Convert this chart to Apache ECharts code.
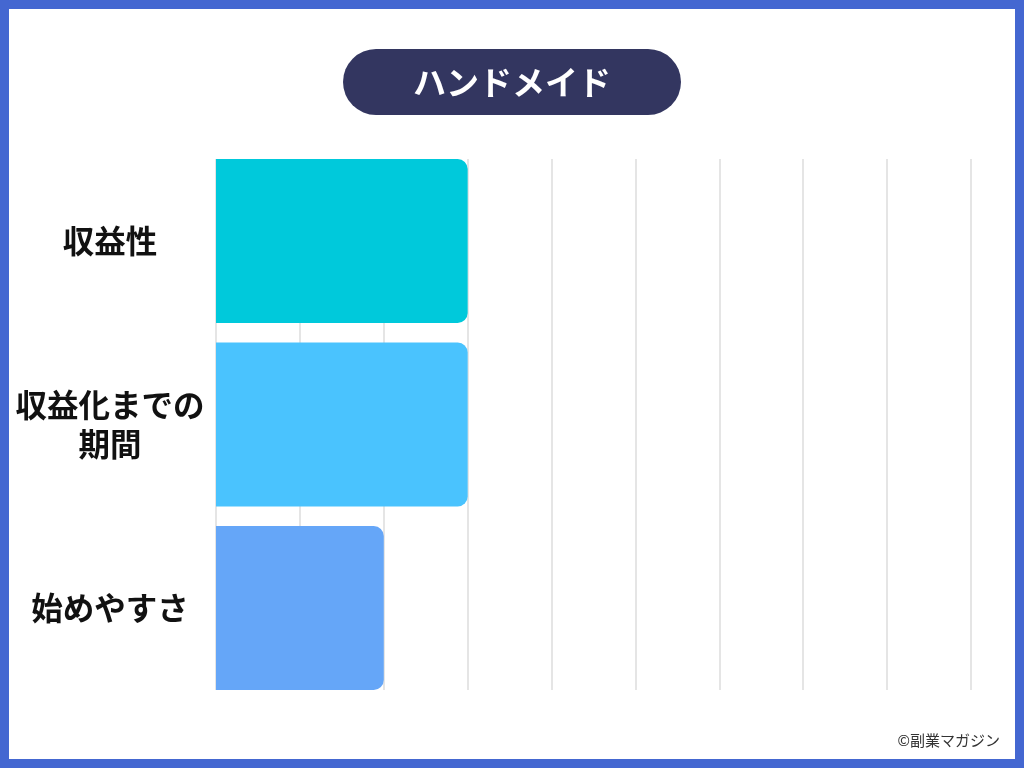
<!DOCTYPE html>
<html>
<head>
<meta charset="utf-8">
<script src="https://cdn.jsdelivr.net/npm/echarts@6/dist/echarts.min.js"></script>
<style>
  html, body { margin: 0; padding: 0; background: #fff; }
  #chart { width: 1024px; height: 768px; }
</style>
</head>
<body>
<div id="chart"></div>
<script>
const titleText = 'ハンドメイド';
const categories = ['収益性', '収益化までの\n期間', '始めやすさ'];
const scores = [3, 3, 2];
const barColors = ['#00C9DB', '#4AC3FE', '#65A6F8'];
const axisMax = 9;
const credit = '©副業マガジン';

const font = '"Noto Sans CJK JP", "Noto Sans", sans-serif';
const chart = echarts.init(document.getElementById('chart'));

const option = {
  backgroundColor: '#fff',
  animation: false,
  title: {
    text: titleText,
    left: 'center',
    top: 49,
    padding: [16, 70],
    backgroundColor: '#333660',
    borderRadius: 33,
    textStyle: { color: '#fff', fontSize: 33, fontWeight: 'bold', fontFamily: font, lineHeight: 34 }
  },
  grid: [
    // gridlines only
    { left: 216, right: 53, top: 159, height: 531 },
    // bars
    { left: 216, right: 53, top: 149.25, height: 550.5 }
  ],
  xAxis: [
    {
      gridIndex: 0, type: 'value', min: 0, max: axisMax, interval: 1,
      axisLine: { show: false }, axisTick: { show: false }, axisLabel: { show: false },
      splitLine: { show: true, lineStyle: { color: '#dcdcdc', width: 1.5 } }
    },
    {
      gridIndex: 1, type: 'value', min: 0, max: axisMax, interval: 1,
      axisLine: { show: false }, axisTick: { show: false }, axisLabel: { show: false },
      splitLine: { show: false }
    }
  ],
  yAxis: [
    { gridIndex: 0, type: 'category', data: categories, show: false },
    {
      gridIndex: 1, type: 'category', data: categories, inverse: true,
      axisLine: { show: false }, axisTick: { show: false },
      axisLabel: {
        align: 'center', margin: 106,
        color: '#111', fontSize: 31.5, fontWeight: 'bold', fontFamily: font, lineHeight: 39
      }
    }
  ],
  series: [{
    type: 'bar',
    xAxisIndex: 1,
    yAxisIndex: 1,
    barWidth: 164,
    data: scores.map((v, i) => ({ value: v, itemStyle: { color: barColors[i] } })),
    itemStyle: { borderRadius: [0, 10, 10, 0] }
  }],
  graphic: [
    {
      type: 'rect',
      shape: { x: 4.5, y: 4.5, width: 1015, height: 759 },
      style: { fill: 'none', stroke: '#4467D1', lineWidth: 9 },
      z: 100
    },
    {
      type: 'text',
      right: 24,
      top: 733,
      style: { text: credit, fill: '#333', fontSize: 15, fontFamily: font }
    }
  ]
};

chart.setOption(option);
</script>
</body>
</html>
